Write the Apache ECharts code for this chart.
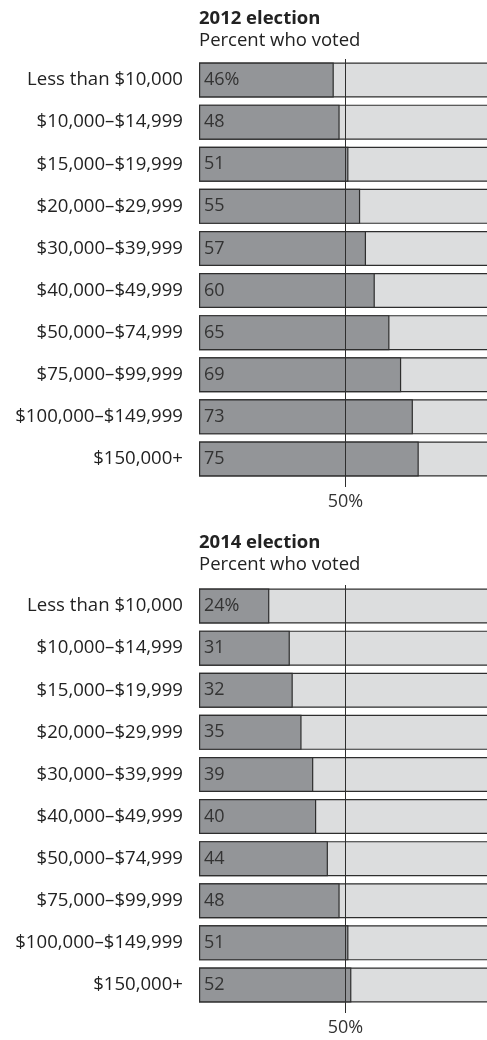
<!DOCTYPE html>
<html>
<head>
<meta charset="utf-8">
<script src="https://cdn.jsdelivr.net/npm/echarts@6/dist/echarts.min.js"></script>
<style>
  html, body { margin: 0; padding: 0; background: #fff; }
  #chart { width: 487px; height: 1040px; }
</style>
</head>
<body>
<div id="chart"></div>
<script>
const incomes = [
  'Less than $10,000', '$10,000–$14,999', '$15,000–$19,999', '$20,000–$29,999',
  '$30,000–$39,999', '$40,000–$49,999', '$50,000–$74,999', '$75,000–$99,999',
  '$100,000–$149,999', '$150,000+'
];
const voted2012 = [46, 48, 51, 55, 57, 60, 65, 69, 73, 75];
const voted2014 = [24, 31, 32, 35, 39, 40, 44, 48, 51, 52];
const fullScale = incomes.map(() => 100);

const FONT = 'Open Sans';
const dark = '#939598', light = '#dcddde', edge = '#2e2e2e';

const chart = echarts.init(document.getElementById('chart'));

// one panel = one grid, one pair of axes, background bar + value bar
function panelAxes(idx) {
  return {
    x: {
      type: 'value', gridIndex: idx, min: 0, max: 100, interval: 50,
      axisLine: { show: false },
      splitLine: { show: false },
      axisTick: { show: true, customValues: [50], length: 7, lineStyle: { color: edge, width: 1 } },
      axisLabel: { customValues: [50], formatter: v => v + '%', margin: 13,
        fontFamily: FONT, fontSize: 18, color: '#333' }
    },
    y: {
      type: 'category', gridIndex: idx, data: incomes, inverse: true,
      axisLine: { show: false }, axisTick: { show: false },
      axisLabel: { margin: 16, fontFamily: FONT, fontSize: 18.6, color: '#222' }
    }
  };
}

function panelSeries(idx, values) {
  return [
    {
      type: 'bar', xAxisIndex: idx, yAxisIndex: idx, data: fullScale,
      barWidth: 35, barGap: '-100%', silent: true,
      itemStyle: { color: light, borderColor: edge, borderWidth: 1.2 }
    },
    {
      type: 'bar', xAxisIndex: idx, yAxisIndex: idx, data: values,
      barWidth: 35, z: 3,
      itemStyle: { color: dark, borderColor: edge, borderWidth: 1.2 },
      label: {
        show: true, position: 'insideLeft', distance: 5,
        fontFamily: FONT, fontSize: 18, color: '#333',
        formatter: p => p.dataIndex === 0 ? p.value + '%' : String(p.value)
      },
      markLine: {
        silent: true, symbol: 'none', z: 5,
        label: { show: false },
        lineStyle: { color: edge, width: 1, type: 'solid' },
        data: [{ xAxis: 50 }]
      }
    }
  ];
}

const a0 = panelAxes(0), a1 = panelAxes(1);

const titleText = { fontFamily: FONT, fontSize: 18.5, fontWeight: 'bold', color: '#222' };
const subText = { fontFamily: FONT, fontSize: 18.5, color: '#222' };

chart.setOption({
  animation: false,
  title: [
    { text: '2012 election', subtext: 'Percent who voted', left: 199, top: 9, itemGap: 3,
      padding: [0, 0, 0, 0], textStyle: titleText, subtextStyle: subText },
    { text: '2014 election', subtext: 'Percent who voted', left: 199, top: 533, itemGap: 3,
      padding: [0, 0, 0, 0], textStyle: titleText, subtextStyle: subText }
  ],
  // the light bars run past the right edge of the window, as in the print
  grid: [
    { left: 199, width: 293, top: 59, height: 421, outerBoundsMode: 'none', containLabel: false },
    { left: 199, width: 293, top: 585, height: 421, outerBoundsMode: 'none', containLabel: false }
  ],
  xAxis: [a0.x, a1.x],
  yAxis: [a0.y, a1.y],
  series: [...panelSeries(0, voted2012), ...panelSeries(1, voted2014)]
});
</script>
</body>
</html>
